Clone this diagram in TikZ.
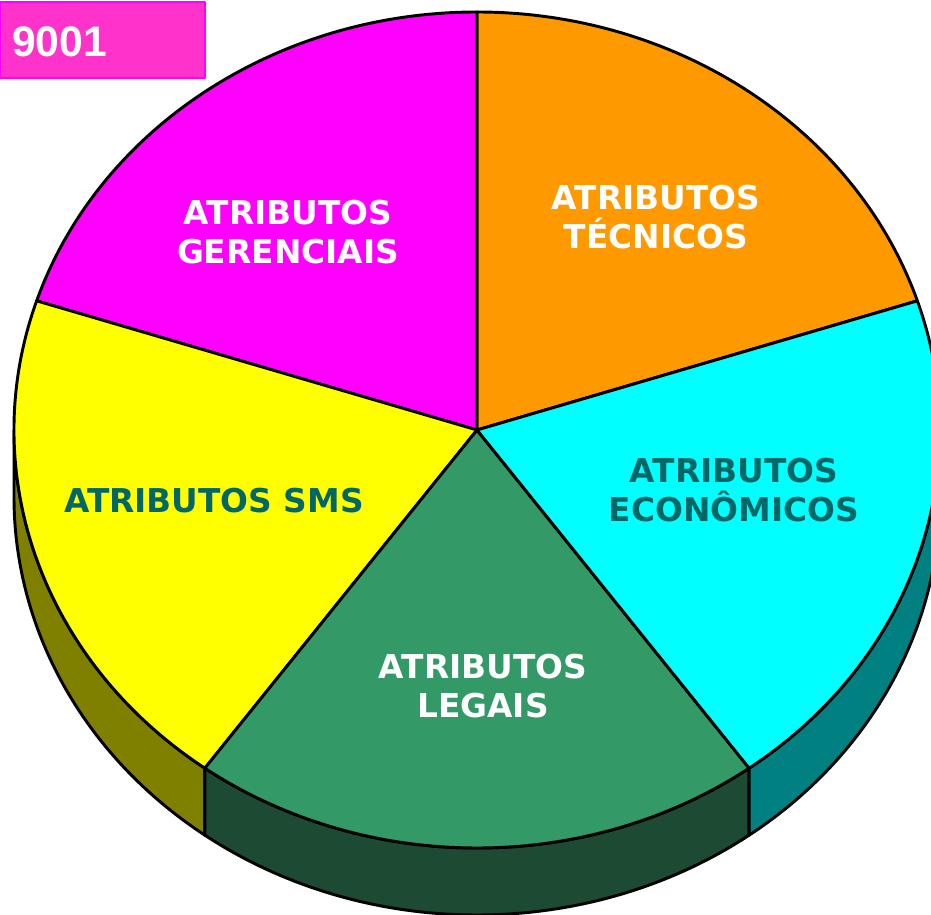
\documentclass[tikz,border=0pt]{standalone}
\usepackage{fontspec}
\setmainfont{DejaVu Sans}
\newfontfamily\arialfont{Liberation Sans}
\usetikzlibrary{calc}
\definecolor{cMag}{HTML}{FF00FF}
\definecolor{cOra}{HTML}{FF9900}
\definecolor{cCya}{HTML}{00FFFF}
\definecolor{cGre}{HTML}{339966}
\definecolor{cYel}{HTML}{FFFF00}
\definecolor{cOli}{HTML}{808000}
\definecolor{cDkg}{HTML}{1C4A32}
\definecolor{cTea}{HTML}{008080}
\definecolor{cTxt}{HTML}{006666}
\definecolor{cTag}{HTML}{FF33CC}
\begin{document}
\begin{tikzpicture}[x=0.75pt,y=0.75pt,line join=round,
  edge/.style={draw=black,line width=2.2pt},
  lbl/.style={font=\bfseries\fontsize{24.6}{29}\selectfont,align=center,inner sep=0pt},
  wlbl/.style={lbl,text=white},
  tlbl/.style={lbl,text=cTxt},
  el/.style={x radius=463,y radius=418}]
\useasboundingbox (0,0) rectangle (931,914);
\coordinate (C) at (477,484);
% sides
\path[edge,fill=cOli] ($(C)+(180:463 and 418)$) arc[el,start angle=180,end angle=234] -- ++(0,-67) arc[el,start angle=234,end angle=180] -- cycle;
\path[edge,fill=cDkg] ($(C)+(234:463 and 418)$) arc[el,start angle=234,end angle=306] -- ++(0,-67) arc[el,start angle=306,end angle=234] -- cycle;
\path[edge,fill=cTea] ($(C)+(306:463 and 418)$) arc[el,start angle=306,end angle=360] -- ++(0,-67) arc[el,start angle=360,end angle=306] -- cycle;
% top slices
\path[edge,fill=cOra] (C) -- ($(C)+(18:463 and 418)$) arc[el,start angle=18,end angle=90] -- cycle;
\path[edge,fill=cMag] (C) -- ($(C)+(90:463 and 418)$) arc[el,start angle=90,end angle=162] -- cycle;
\path[edge,fill=cYel] (C) -- ($(C)+(162:463 and 418)$) arc[el,start angle=162,end angle=234] -- cycle;
\path[edge,fill=cGre] (C) -- ($(C)+(234:463 and 418)$) arc[el,start angle=234,end angle=306] -- cycle;
\path[edge,fill=cCya] (C) -- ($(C)+(306:463 and 418)$) arc[el,start angle=306,end angle=378] -- cycle;
% labels
\node[wlbl] (ger) at (288,682) {ATRIBUTOS\\GERENCIAIS};
\node[wlbl] (tec) at (656,697) {ATRIBUTOS\\TÉCNICOS};
\node[tlbl] (eco) at (734,424) {ATRIBUTOS\\ECONÔMICOS};
\node[tlbl] (sms) at (214,413) {ATRIBUTOS SMS};
\node[wlbl] (leg) at (483,228) {ATRIBUTOS\\LEGAIS};
% tag
\path[fill=cTag,draw=cMag,line width=0.8pt] (0.5,912) rectangle (205,836);
\node[anchor=base west,inner sep=0pt,text=white,font=\arialfont\bfseries\fontsize{32}{36}\selectfont] (tag) at (12,857) {9001};
\end{tikzpicture}
\end{document}
